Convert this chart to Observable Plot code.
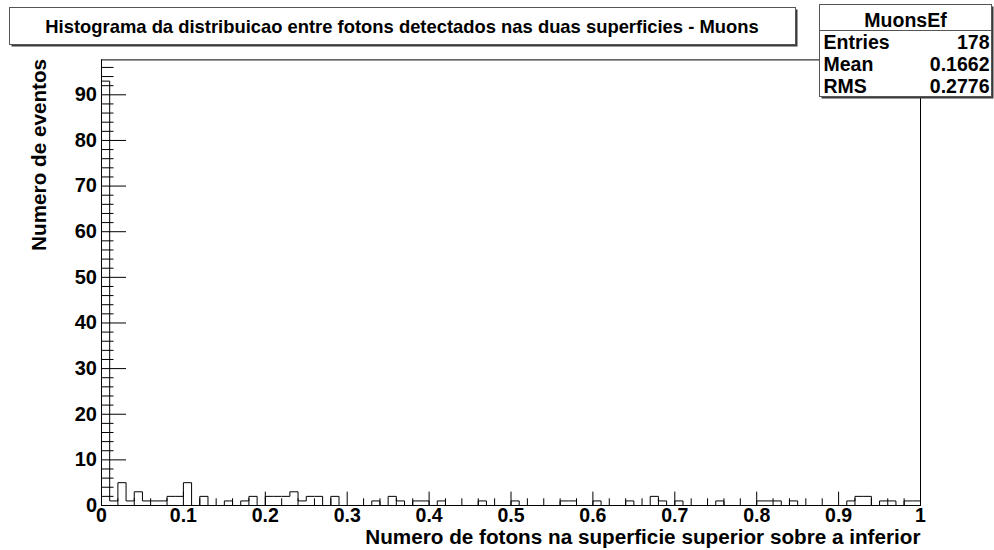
<!DOCTYPE html>
<html>
<head>
<meta charset="utf-8">
<script src="https://cdn.jsdelivr.net/npm/d3@7"></script>
<script src="https://cdn.jsdelivr.net/npm/@observablehq/plot@0.6"></script>
<style>
  html, body { margin: 0; padding: 0; background: #fff; }
  #chart svg { display: block; }
</style>
</head>
<body>
<div id="chart"></div>
<script>
// ---------- data ----------
const histName = "MuonsEf";
const chartTitle = "Histograma da distribuicao entre fotons detectados nas duas superficies - Muons";
const xTitle = "Numero de fotons na superficie superior sobre a inferior";
const yTitle = "Numero de eventos";
const xMin = 0, xMax = 1;
// 100 bins of width 0.01 on [0, 1]
const binCounts = [
  93, 1, 5, 1, 3, 1, 1, 1, 2, 2,
   5, 0, 2, 0, 0, 1, 0, 1, 2, 0,
   2, 2, 2, 3, 1, 2, 2, 0, 2, 0,
   0, 0, 0, 1, 0, 2, 1, 0, 1, 1,
   0, 1, 0, 0, 0, 0, 1, 0, 0, 0,
   1, 0, 0, 0, 0, 0, 1, 1, 0, 0,
   1, 0, 0, 0, 1, 0, 0, 2, 1, 0,
   1, 0, 0, 0, 0, 1, 0, 0, 0, 0,
   1, 1, 1, 0, 1, 0, 0, 0, 0, 0,
   0, 1, 2, 2, 0, 1, 1, 0, 1, 1
];
const statsLabels = ["Entries", "Mean", "RMS"];
const statsValues = ["178", "0.1662", "0.2776"];
const xMajorTicks = [0, 0.1, 0.2, 0.3, 0.4, 0.5, 0.6, 0.7, 0.8, 0.9, 1];
const xTickLabels = ["0", "0.1", "0.2", "0.3", "0.4", "0.5", "0.6", "0.7", "0.8", "0.9", "1"];
const yMajorTicks = [0, 10, 20, 30, 40, 50, 60, 70, 80, 90];
const yTickLabels = ["0", "10", "20", "30", "40", "50", "60", "70", "80", "90"];

// ---------- derived ----------
const nBins = binCounts.length;
const binW = (xMax - xMin) / nBins;
const yMax = d3.max(binCounts) * 1.05; // ROOT default headroom
const steps = [{x: xMin, y: 0}]
  .concat(binCounts.map((c, i) => ({x: xMin + i * binW, y: c})))
  .concat([{x: xMax, y: binCounts[nBins - 1]}, {x: xMax, y: 0}]);
const xMinorTicks = d3.range(0, 51).map(k => k * 0.02).filter(v => Math.abs(v * 10 - Math.round(v * 10)) > 1e-6);
const yMinorTicks = d3.range(0, Math.floor(yMax / 2) + 1).map(k => k * 2).filter(v => v % 10 !== 0);

const W = 994, H = 550;
const mL = 101, mR = 74, mT = 59.4, mB = 45;
const frameW = W - mL - mR, frameH = H - mT - mB;
const FONT = "'Liberation Sans', Arial, Helvetica, sans-serif";

const plot = Plot.plot({
  width: W,
  height: H,
  marginLeft: mL,
  marginRight: mR,
  marginTop: mT,
  marginBottom: mB,
  style: {fontFamily: FONT, fontWeight: "bold", background: "#fff", color: "#000"},
  x: {domain: [xMin, xMax]},
  y: {domain: [0, yMax]},
  marks: [
    Plot.frame({stroke: "#000", strokeWidth: 1}),
    Plot.line(steps, {x: "x", y: "y", curve: "step-after", stroke: "#000", strokeWidth: 1}),
    // inward ticks, ROOT style
    Plot.tickY(yMinorTicks, {y: d => d, insetRight: frameW - 12.5, stroke: "#000"}),
    Plot.tickY(yMajorTicks, {y: d => d, insetRight: frameW - 25, stroke: "#000"}),
    Plot.tickX(xMinorTicks, {x: d => d, insetTop: frameH - 6.7, stroke: "#000"}),
    Plot.tickX(xMajorTicks, {x: d => d, insetTop: frameH - 13.4, stroke: "#000"}),
    Plot.axisX(xMajorTicks, {
      tickSize: 0, tickPadding: 3, label: null,
      tickFormat: d => xTickLabels[xMajorTicks.indexOf(d)],
      fontSize: 19.5, fontWeight: "bold", fill: "#000"
    }),
    Plot.axisY(yMajorTicks, {
      tickSize: 0, tickPadding: 4.5, label: null,
      tickFormat: d => yTickLabels[yMajorTicks.indexOf(d)],
      fontSize: 20, fontWeight: "bold", fill: "#000"
    }),
    Plot.ruleX([xMin], {stroke: "#000"}),
    Plot.ruleY([0], {stroke: "#000"}),
    Plot.text([xTitle], {
      text: d => d, frameAnchor: "bottom-right", textAnchor: "end",
      dy: 38, fontSize: 20.7, fontWeight: "bold", fill: "#000"
    }),
    Plot.text([yTitle], {
      text: d => d, frameAnchor: "top-left", textAnchor: "end", rotate: -90,
      dx: -70, dy: -1, fontSize: 20.7, fontWeight: "bold", fill: "#000"
    })
  ]
});

document.getElementById("chart").appendChild(plot);

// ---------- title pave and stats box (ROOT TPaveText / TPaveStats look) ----------
const svg = d3.select(plot);

function pave(g, x, y, w, h) {
  g.append("rect").attr("x", x + 2).attr("y", y + 2).attr("width", w).attr("height", h)
    .attr("fill", "#3a3a3a");
  g.append("rect").attr("x", x).attr("y", y).attr("width", w).attr("height", h)
    .attr("fill", "#fff").attr("stroke", "#555").attr("stroke-width", 1);
}

const tg = svg.append("g");
pave(tg, 9.5, 7.5, 786, 37);
tg.append("text")
  .attr("x", 9.5 + 786 / 2 - 0.5).attr("y", 26.5).attr("dy", "0.35em")
  .attr("text-anchor", "middle")
  .attr("font-family", FONT).attr("font-weight", "bold").attr("font-size", 18.4)
  .attr("fill", "#000")
  .text(chartTitle);

const sg = svg.append("g");
const sx = 819.5, sy = 4.5, sw = 172, sh = 92;
pave(sg, sx, sy, sw, sh);
sg.append("line").attr("x1", sx).attr("x2", sx + sw).attr("y1", 30.5).attr("y2", 30.5)
  .attr("stroke", "#555").attr("stroke-width", 1);
sg.append("text")
  .attr("x", sx + sw / 2).attr("y", 20.5).attr("dy", "0.35em").attr("text-anchor", "middle")
  .attr("font-family", FONT).attr("font-weight", "bold").attr("font-size", 19.5).attr("fill", "#000")
  .text(histName);
statsLabels.forEach((lab, i) => {
  const cy = 42.5 + i * 21.7;
  sg.append("text")
    .attr("x", sx + 4).attr("y", cy).attr("dy", "0.35em").attr("text-anchor", "start")
    .attr("font-family", FONT).attr("font-weight", "bold").attr("font-size", 19.5).attr("fill", "#000")
    .text(lab);
  sg.append("text")
    .attr("x", sx + sw - 2).attr("y", cy).attr("dy", "0.35em").attr("text-anchor", "end")
    .attr("font-family", FONT).attr("font-weight", "bold").attr("font-size", 19.5).attr("fill", "#000")
    .text(statsValues[i]);
});
</script>
</body>
</html>
